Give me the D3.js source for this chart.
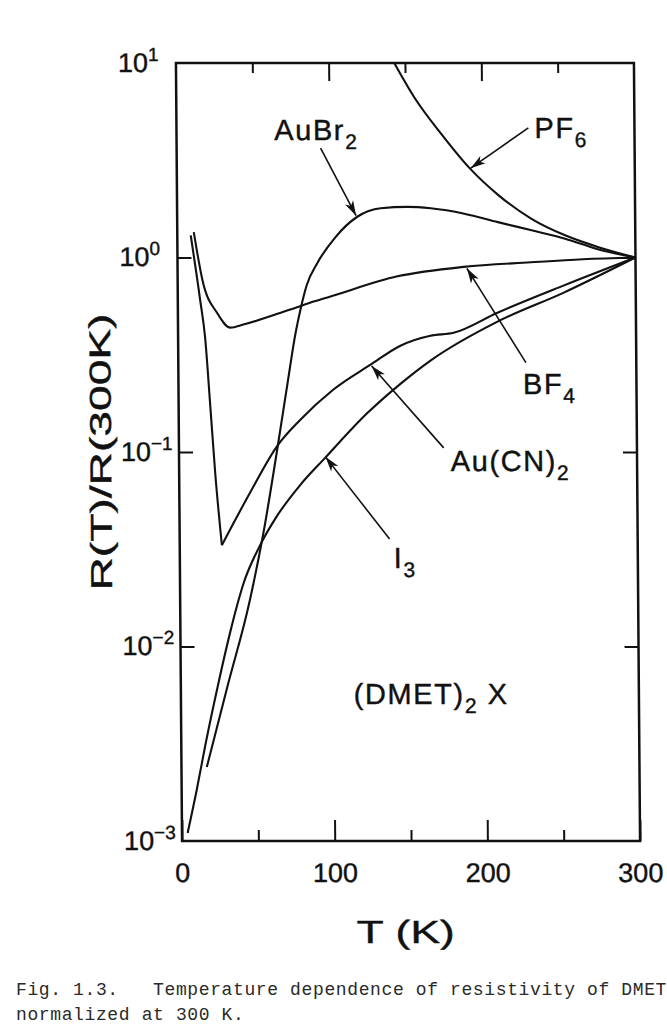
<!DOCTYPE html>
<html lang="en">
<head>
<meta charset="UTF-8">
<title>Temperature dependence of resistivity of (DMET)2X</title>
<script src="https://d3js.org/d3.v7.min.js"></script>
<style>
  body { margin: 0; background: #fff; }
  svg { display: block; }
  .chart text { font-family: "Liberation Sans", Arial, Helvetica, sans-serif; fill: #111;
                stroke: #111; stroke-width: 0.4; }
  .tick text { font-size: 27px; }
  .curve { fill: none; stroke: #111; stroke-width: 2.1; stroke-linejoin: round; }
  .frame { fill: none; stroke: #111; stroke-width: 2.5; }
  .pointer { stroke: #111; stroke-width: 1.6; }
  .tag { font-size: 29px; letter-spacing: 1.6px; }
  .caption { font-family: "Liberation Mono", "DejaVu Sans Mono", monospace; font-size: 18px;
             letter-spacing: 0.62px; fill: #2a2a2a; white-space: pre; }
</style>
</head>
<body>
<svg id="fig" width="667" height="1026"></svg>
<script>
// [T (K), R(T)/R(300 K)]
const pf6 = [[143, 10], [155.9, 6.67], [173.4, 4.32], [191.8, 2.88], [210.3, 2.10],
             [232.1, 1.58], [254, 1.30], [275.9, 1.13], [300, 1]];
const auBr2 = [[16.6, 0.0024], [30.7, 0.0063], [45.5, 0.0171], [55, 0.0388], [64.7, 0.107],
               [71.5, 0.227], [77, 0.41], [80.3, 0.54], [84.5, 0.72], [91.7, 0.94],
               [103.5, 1.27], [118, 1.62], [133.3, 1.79], [150.9, 1.82], [166.2, 1.79],
               [188.1, 1.68], [210.1, 1.52], [232.1, 1.38], [254, 1.25], [275.9, 1.10], [300, 1]];
const bf4 = [[10.8, 1.35], [16.6, 0.743], [25.6, 0.52], [34.3, 0.436], [42.8, 0.452],
             [73.6, 0.54], [89.6, 0.595], [100, 0.63], [144, 0.80], [187.4, 0.895],
             [231.4, 0.945], [265.6, 0.98], [300, 1]];
const auCN2 = [[8.8, 1.30], [14.6, 0.608], [17.7, 0.387], [20.6, 0.179], [23.6, 0.0782],
               [27.6, 0.0332], [46.4, 0.0619], [64.2, 0.107], [79.5, 0.146], [101.3, 0.209],
               [125.9, 0.281], [145.6, 0.352], [165.3, 0.396], [180.5, 0.41], [209.3, 0.52],
               [252.7, 0.717], [300, 1]];
const i3 = [[3.7, 0.0011], [9.8, 0.00182], [16.2, 0.00324], [24.3, 0.00631], [32.5, 0.01175],
            [37.2, 0.0162], [41.4, 0.0209], [52.6, 0.0331], [63.8, 0.0468], [79.2, 0.0676],
            [95.7, 0.0933], [123.4, 0.158], [145.4, 0.224], [165.2, 0.295], [209.3, 0.468],
            [252.9, 0.66], [300, 1]];

// axes
const xLabelTicks = [0, 100, 200, 300];
const xMinorTicks = [50, 150, 250];
const yInnerTicks = [1, 0.1, 0.01];
const yDecades = [1, 0, -1, -2, -3];

// curve labels and their pointers (placed in data units)
const labelMain = ["AuBr", "PF", "BF", "Au(CN)", "I", "(DMET)"];
const labelSub = ["2", "6", "4", "2", "3", "2"];
const labelTail = ["", "", "", "", "", " X"];
const labelAt = [[64, 4.02], [234.5, 4.12], [225.6, 0.199], [177.9, 0.0798], [140.1, 0.0253], [113.2, 0.00508]];
const arrowFrom = [[94.3, 3.65], [230.5, 4.64], [227.7, 0.288], [173.4, 0.105], [137.5, 0.0357]];
const arrowTo = [[117.2, 1.64], [192.5, 2.88], [189.5, 0.88], [126.6, 0.277], [95.9, 0.0944]];

const svg = d3.select("#fig");
const x = d3.scaleLinear().domain([0, 300]).range([179, 637]);
const y = d3.scaleLog().domain([1e-3, 10]).range([841, 63]);

svg.append("defs").append("marker")
    .attr("id", "head")
    .attr("viewBox", "-16 -6 17 12")
    .attr("markerWidth", 17).attr("markerHeight", 12)
    .attr("markerUnits", "userSpaceOnUse")
    .attr("refX", 0).attr("refY", 0)
    .attr("orient", "auto")
  .append("path")
    .attr("d", "M0,0L-15,-4.5L-11,0L-15,4.5Z")
    .attr("fill", "#111");

// the printed figure is slightly sheared, follow it
const chart = svg.append("g")
    .attr("class", "chart")
    .attr("transform", "translate(0,452) skewX(0.45) translate(0,-452)");

function tidy(g) {
    g.select(".domain").remove();
    g.selectAll(".tick line").attr("stroke", "#111").attr("stroke-width", 2);
}

chart.append("g")
    .attr("transform", `translate(0,${y(1e-3)})`)
    .call(d3.axisBottom(x).tickValues(xLabelTicks).tickSize(-21).tickPadding(22).tickFormat(d3.format("d")))
    .call(tidy);
chart.append("g")
    .attr("transform", `translate(0,${y(1e-3)})`)
    .call(d3.axisBottom(x).tickValues(xMinorTicks).tickSize(-11).tickFormat(""))
    .call(tidy);
chart.append("g")
    .attr("transform", `translate(0,${y(10)})`)
    .call(d3.axisTop(x).tickValues([100, 200]).tickSize(-18).tickFormat(""))
    .call(tidy);
chart.append("g")
    .attr("transform", `translate(0,${y(10)})`)
    .call(d3.axisTop(x).tickValues(xMinorTicks).tickSize(-10).tickFormat(""))
    .call(tidy);
chart.append("g")
    .attr("transform", `translate(${x(0)},0)`)
    .call(d3.axisLeft(y).tickValues(yInnerTicks).tickSize(-14).tickFormat(""))
    .call(tidy);
chart.append("g")
    .attr("transform", `translate(${x(300)},0)`)
    .call(d3.axisRight(y).tickValues(yInnerTicks).tickSize(-14).tickFormat(""))
    .call(tidy);

// decade labels 10^n
const decade = chart.append("g").selectAll("text")
    .data(yDecades)
    .join("text")
    .attr("x", x(0) - 58)
    .attr("y", d => y(Math.pow(10, d)) + 9)
    .attr("font-size", 27);
decade.append("tspan").text("10");
decade.append("tspan")
    .attr("dy", -11)
    .attr("font-size", 19)
    .text(d => (d < 0 ? "\u2212" + (-d) : String(d)));

chart.append("rect")
    .attr("class", "frame")
    .attr("x", x(0)).attr("y", y(10))
    .attr("width", x(300) - x(0))
    .attr("height", y(1e-3) - y(10));

const line = d3.line()
    .x(d => x(d[0]))
    .y(d => y(d[1]))
    .curve(d3.curveMonotoneX);

// Au(CN)2 has a sharp minimum: draw the two branches separately
const kink = d3.minIndex(auCN2, d => d[1]);
const pieces = [pf6, auBr2, bf4, auCN2.slice(0, kink + 1), auCN2.slice(kink), i3];

chart.append("g").selectAll("path")
    .data(pieces)
    .join("path")
    .attr("class", "curve")
    .attr("d", line);

chart.append("g").selectAll("line")
    .data(arrowFrom)
    .join("line")
    .attr("class", "pointer")
    .attr("x1", d => x(d[0])).attr("y1", d => y(d[1]))
    .attr("x2", (d, i) => x(arrowTo[i][0])).attr("y2", (d, i) => y(arrowTo[i][1]))
    .attr("marker-end", "url(#head)");

const tag = chart.append("g").selectAll("text")
    .data(labelMain)
    .join("text")
    .attr("class", "tag")
    .attr("x", (d, i) => x(labelAt[i][0]))
    .attr("y", (d, i) => y(labelAt[i][1]));
tag.append("tspan").text(d => d);
tag.append("tspan")
    .attr("dy", 9)
    .attr("font-size", 21)
    .text((d, i) => labelSub[i]);
tag.append("tspan")
    .attr("dy", -9)
    .text((d, i) => labelTail[i]);

chart.append("text")
    .attr("x", 402).attr("y", 943)
    .attr("text-anchor", "middle")
    .attr("font-size", 32)
    .attr("stroke-width", 1.1)
    .attr("textLength", 98)
    .attr("lengthAdjust", "spacingAndGlyphs")
    .text("T (K)");

chart.append("text")
    .attr("transform", "translate(111,452) rotate(-90)")
    .attr("text-anchor", "middle")
    .attr("font-size", 30)
    .attr("textLength", 277)
    .attr("lengthAdjust", "spacingAndGlyphs")
    .text("R(T)/R(300K)");

svg.append("text").attr("class", "caption")
    .attr("x", 16).attr("y", 995)
    .text("Fig. 1.3.   Temperature dependence of resistivity of DMET");
svg.append("text").attr("class", "caption")
    .attr("x", 16).attr("y", 1020)
    .text("normalized at 300 K.");
</script>
</body>
</html>
